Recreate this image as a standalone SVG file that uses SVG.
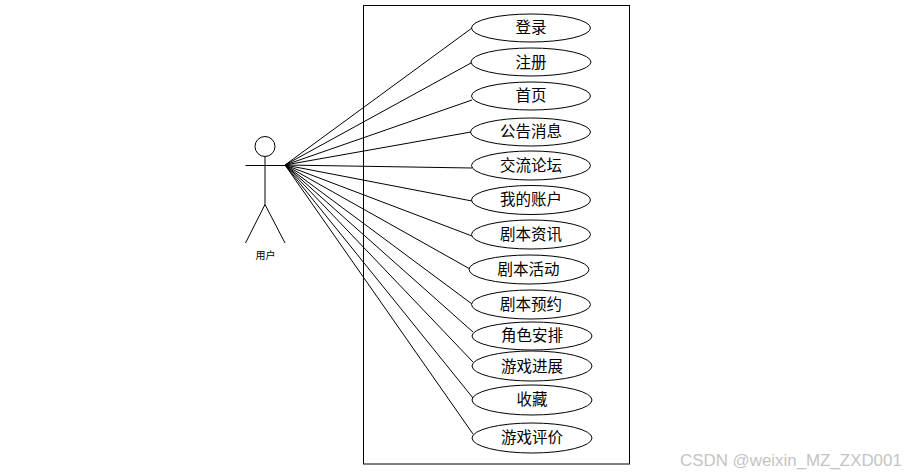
<svg xmlns="http://www.w3.org/2000/svg" width="904" height="476" viewBox="0 0 904 476">
<style>
.l{stroke:#000;stroke-width:1;fill:none}
.u{fill:#fff;stroke:#000;stroke-width:1}
.t{font-family:"Noto Sans CJK SC","Liberation Sans",sans-serif;font-size:15.500px;text-anchor:middle;fill:#000}
.a{font-family:"Noto Sans CJK SC","Liberation Sans",sans-serif;font-size:10px;text-anchor:middle;fill:#000}
.w{font-family:"Liberation Sans",Arial,sans-serif;font-size:16.900px;fill:#c4c4c4}
</style>
<rect width="904" height="476" fill="#fff"/>
<g id="boundary"><rect x="363.500" y="5.500" width="266" height="458.500" class="l"/></g>
<g id="connectors" class="l">
<path d="M285 165L472 28"/><path d="M285 165L471 63"/><path d="M285 165L472 100"/><path d="M285 165L471 132"/><path d="M285 165L472 168"/><path d="M285 165L472 201"/><path d="M285 165L472 236"/><path d="M285 165L470 269"/><path d="M285 165L472 304"/><path d="M285 165L473 332"/><path d="M285 165L473 362"/><path d="M285 165L473 398"/><path d="M285 165L473 434"/>
</g>
<g id="actor">
<circle cx="265" cy="146.500" r="10" class="u"/>
<path class="l" d="M245.500 165.500H285M265 156.500V204.500L245.500 243M265 204.500L285 243"/>
<text x="265.500" y="259" class="a">用户</text>
</g>
<g id="u1"><ellipse cx="531" cy="28" rx="59.500" ry="14" class="u"/><text x="531" y="33" class="t">登录</text></g>
<g id="u2"><ellipse cx="531" cy="62" rx="60" ry="14" class="u"/><text x="531" y="68" class="t">注册</text></g>
<g id="u3"><ellipse cx="531" cy="96" rx="59.500" ry="14" class="u"/><text x="531" y="101" class="t">首页</text></g>
<g id="u4"><ellipse cx="530.500" cy="132" rx="60" ry="14" class="u"/><text x="531" y="137" class="t">公告消息</text></g>
<g id="u5"><ellipse cx="531" cy="165.500" rx="59.500" ry="14.500" class="u"/><text x="531" y="171" class="t">交流论坛</text></g>
<g id="u6"><ellipse cx="531" cy="200" rx="59.500" ry="14.500" class="u"/><text x="531" y="205" class="t">我的账户</text></g>
<g id="u7"><ellipse cx="531" cy="234.500" rx="59.500" ry="14.500" class="u"/><text x="531" y="240" class="t">剧本资讯</text></g>
<g id="u8"><ellipse cx="529" cy="269.500" rx="60" ry="14.500" class="u"/><text x="528.500" y="275" class="t">剧本活动</text></g>
<g id="u9"><ellipse cx="531" cy="304.500" rx="59.500" ry="14.500" class="u"/><text x="531" y="310" class="t">剧本预约</text></g>
<g id="u10"><ellipse cx="532" cy="336" rx="60" ry="14" class="u"/><text x="532" y="341" class="t">角色安排</text></g>
<g id="u11"><ellipse cx="532" cy="366" rx="60" ry="15" class="u"/><text x="532" y="372" class="t">游戏进展</text></g>
<g id="u12"><ellipse cx="532" cy="400" rx="60" ry="15" class="u"/><text x="532" y="405" class="t">收藏</text></g>
<g id="u13"><ellipse cx="532" cy="438" rx="60" ry="15" class="u"/><text x="532" y="443" class="t">游戏评价</text></g>
<text x="680" y="466" class="w">CSDN @weixin_MZ_ZXD001</text>
</svg>
